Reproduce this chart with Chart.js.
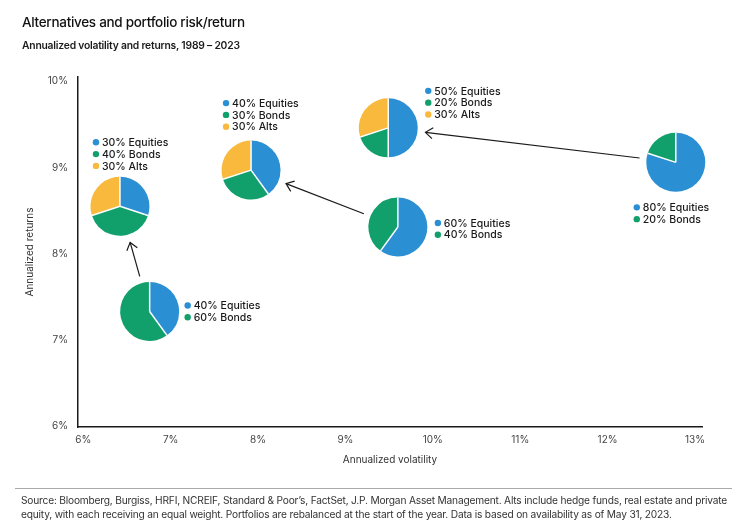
<!DOCTYPE html>
<html>
<head>
<meta charset="utf-8">
<script src="https://cdn.jsdelivr.net/npm/chart.js@4.4.0/dist/chart.umd.min.js"></script>
<style>
  body { margin: 0; background: #fff; font-family: Inter, "Noto Sans", sans-serif; }
  #wrap { position: relative; width: 745px; height: 527px; overflow: hidden; }
  #wrap canvas { position: absolute; left: 0; top: 0; }
  .title { position: absolute; left: 22px; top: 14px; font-size: 13.5px; font-weight: 500; color: #111; letter-spacing: -0.3px; }
  .subtitle { position: absolute; left: 22px; top: 39px; font-size: 10.3px; font-weight: 600; color: #1a1a1a; letter-spacing: -0.2px; }
  .rule { position: absolute; left: 15px; right: 13px; top: 488px; border-top: 1px solid #aaa; }
  .source { position: absolute; left: 21px; top: 493px; width: 724px; font-size: 10.2px; line-height: 14px; color: #333; letter-spacing: -0.2px; }
</style>
</head>
<body>
<div id="wrap">
  <canvas id="riskReturn" width="745" height="527"></canvas>
  <div class="title">Alternatives and portfolio risk/return</div>
  <div class="subtitle">Annualized volatility and returns, 1989 – 2023</div>
  <div class="rule"></div>
  <div class="source">Source: Bloomberg, Burgiss, HRFI, NCREIF, Standard &amp; Poor’s, FactSet, J.P. Morgan Asset Management. Alts include hedge funds, real estate and private<br>equity, with each receiving an equal weight. Portfolios are rebalanced at the start of the year. Data is based on availability as of May 31, 2023.</div>
</div>

<script>
  // portfolios
  const portfolios = ['40/60', '30/40/30', '40/30/30', '60/40', '50/20/30', '80/20'];
  const volatility = [6.76, 6.42, 7.92, 9.60, 9.49, 12.78];
  const returns = [7.33, 8.55, 8.97, 8.31, 9.46, 9.06];
  const equities = [40, 30, 40, 60, 50, 80];
  const bonds = [60, 40, 30, 40, 20, 20];
  const alts = [0, 30, 30, 0, 30, 0];

  const assetNames = ['Equities', 'Bonds', 'Alts'];
  const assetColors = ['#2b8fd3', '#11a06b', '#f8b93c'];

  // arrows go from one portfolio to another (by index)
  const arrowFrom = [0, 3, 5];
  const arrowTo = [1, 2, 4];

  const xTicks = [6, 7, 8, 9, 10, 11, 12, 13];
  const yTicks = [6, 7, 8, 9, 10];

  // where each small legend sits, relative to its pie centre
  const legendOffset = [[38, -6], [-24, -64], [-25, -67], [40, -4], [40, -37], [-39, 45]];

  const pieRadius = 29.5;
  const fontFamily = 'Inter, "Noto Sans", sans-serif';

  const piePlugin = {
    id: 'pies',
    afterDatasetsDraw(chart) {
      const ctx = chart.ctx;
      const xs = chart.scales.x, ys = chart.scales.y;
      const centres = portfolios.map((p, i) => [xs.getPixelForValue(volatility[i]), ys.getPixelForValue(returns[i])]);

      // arrows
      ctx.save();
      ctx.strokeStyle = '#1a1a1a';
      ctx.lineWidth = 1.2;
      arrowFrom.forEach((a, k) => {
        const [ax, ay] = centres[a];
        const [bx, by] = centres[arrowTo[k]];
        const len = Math.hypot(bx - ax, by - ay);
        const ux = (bx - ax) / len, uy = (by - ay) / len;
        const sx = ax + ux * (pieRadius + 7), sy = ay + uy * (pieRadius + 7);
        const ex = bx - ux * (pieRadius + 8), ey = by - uy * (pieRadius + 8);
        ctx.beginPath();
        ctx.moveTo(sx, sy);
        ctx.lineTo(ex, ey);
        ctx.stroke();
        const ang = Math.atan2(uy, ux);
        const head = 9, spread = 0.65;
        ctx.beginPath();
        ctx.moveTo(ex - head * Math.cos(ang - spread), ey - head * Math.sin(ang - spread));
        ctx.lineTo(ex, ey);
        ctx.lineTo(ex - head * Math.cos(ang + spread), ey - head * Math.sin(ang + spread));
        ctx.stroke();
      });
      ctx.restore();

      // pies and their legends
      portfolios.forEach((p, i) => {
        const [cx, cy] = centres[i];
        const parts = [equities[i], bonds[i], alts[i]];
        let start = -Math.PI / 2;
        ctx.save();
        parts.forEach((v, j) => {
          if (!v) return;
          const end = start + v / 100 * Math.PI * 2;
          ctx.beginPath();
          ctx.moveTo(cx, cy);
          ctx.arc(cx, cy, pieRadius, start, end);
          ctx.closePath();
          ctx.fillStyle = assetColors[j];
          ctx.fill();
          start = end;
        });
        start = -Math.PI / 2;
        ctx.strokeStyle = '#fff';
        ctx.lineWidth = 1.5;
        parts.forEach((v) => {
          if (!v) return;
          ctx.beginPath();
          ctx.moveTo(cx, cy);
          ctx.lineTo(cx + pieRadius * Math.cos(start), cy + pieRadius * Math.sin(start));
          ctx.stroke();
          start += v / 100 * Math.PI * 2;
        });

        const lx = cx + legendOffset[i][0], ly = cy + legendOffset[i][1];
        ctx.font = '500 10.5px ' + fontFamily;
        ctx.textBaseline = 'middle';
        ctx.textAlign = 'left';
        let row = 0;
        parts.forEach((v, j) => {
          if (!v) return;
          const y = ly + row * 11.8;
          ctx.beginPath();
          ctx.arc(lx, y, 3.2, 0, Math.PI * 2);
          ctx.fillStyle = assetColors[j];
          ctx.fill();
          ctx.fillStyle = '#1a1a1a';
          ctx.fillText(v + '% ' + assetNames[j], lx + 6, y + 0.5);
          row++;
        });
        ctx.restore();
      });
    }
  };

  new Chart(document.getElementById('riskReturn'), {
    type: 'scatter',
    data: {
      datasets: [{
        label: 'Portfolios',
        data: portfolios.map((p, i) => ({ x: volatility[i], y: returns[i] })),
        pointRadius: 0,
        pointHoverRadius: 0
      }]
    },
    options: {
      responsive: false,
      animation: false,
      events: [],
      layout: { padding: { left: 20, top: 77, right: 43, bottom: 57 } },
      plugins: {
        legend: { display: false },
        tooltip: { enabled: false }
      },
      scales: {
        x: {
          type: 'linear',
          min: 5.94,
          max: 13.08,
          afterBuildTicks: (s) => { s.ticks = xTicks.map(v => ({ value: v })); },
          afterFit: (s) => { s.height = 43; },
          grid: { display: false, drawTicks: false },
          border: { color: '#1a1a1a', width: 1.5 },
          ticks: {
            padding: 7,
            color: '#444',
            font: { family: fontFamily, size: 10 },
            callback: (v) => v + '%'
          },
          title: {
            display: true,
            text: 'Annualized volatility',
            color: '#333',
            font: { family: fontFamily, size: 10 }
          }
        },
        y: {
          type: 'linear',
          min: 5.99,
          max: 10.05,
          afterBuildTicks: (s) => { s.ticks = yTicks.map(v => ({ value: v })); },
          afterFit: (s) => { s.width = 58; },
          grid: { display: false, drawTicks: false },
          border: { color: '#1a1a1a', width: 1.5 },
          ticks: {
            padding: 10,
            color: '#444',
            font: { family: fontFamily, size: 10 },
            callback: (v) => v + '%'
          },
          title: {
            display: true,
            text: 'Annualized returns',
            color: '#333',
            font: { family: fontFamily, size: 10 }
          }
        }
      }
    },
    plugins: [piePlugin]
  });
</script>
</body>
</html>
